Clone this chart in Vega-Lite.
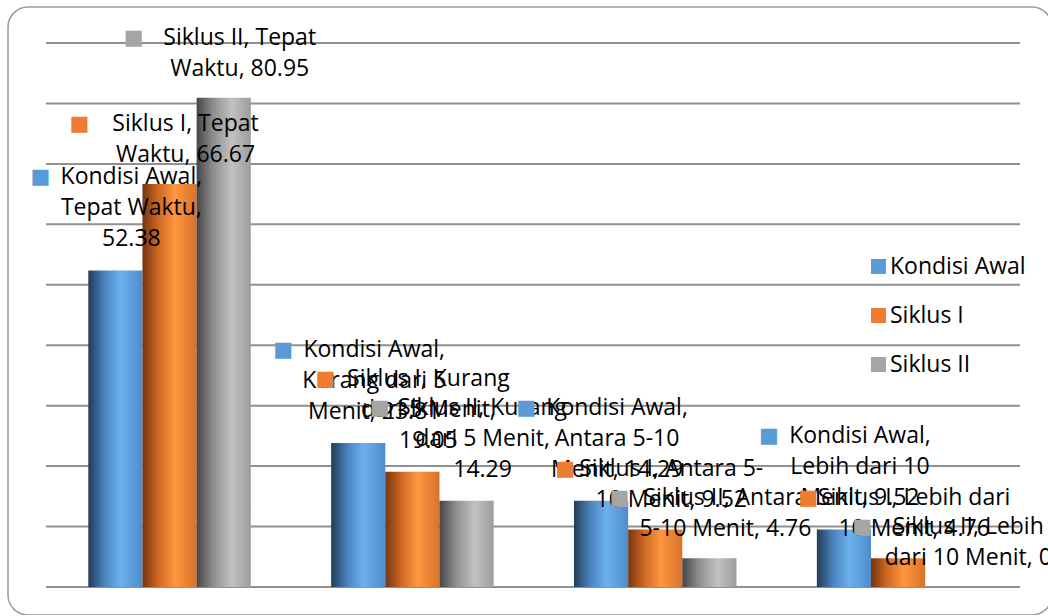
{
  "$schema": "https://vega.github.io/schema/vega-lite/v6.json",
  "width": 1044,
  "height": 608,
  "autosize": {"type": "none"},
  "padding": {"left": 8, "top": 7, "right": 0, "bottom": 0},
  "background": "white",
  "config": {
    "view": {"stroke": "#9b9b9b", "strokeWidth": 1.5, "cornerRadius": 20},
    "font": "Open Sans"
  },
  "datasets": {
    "bars": [
      {"category": "Tepat Waktu", "series": "Kondisi Awal", "value": 52.38, "label": "Kondisi Awal,\nTepat Waktu,\n52.38"},
      {"category": "Tepat Waktu", "series": "Siklus I", "value": 66.67, "label": "Siklus I, Tepat\nWaktu, 66.67"},
      {"category": "Tepat Waktu", "series": "Siklus II", "value": 80.95, "label": "Siklus II, Tepat\nWaktu, 80.95"},
      {"category": "Kurang dari 5 Menit", "series": "Kondisi Awal", "value": 23.81, "label": "Kondisi Awal,\nKurang dari 5\nMenit, 23.81"},
      {"category": "Kurang dari 5 Menit", "series": "Siklus I", "value": 19.05, "label": "Siklus I, Kurang\ndari 5 Menit,\n19.05"},
      {"category": "Kurang dari 5 Menit", "series": "Siklus II", "value": 14.29, "label": "Siklus II, Kurang\ndari 5 Menit,\n14.29"},
      {"category": "Antara 5-10 Menit", "series": "Kondisi Awal", "value": 14.29, "label": "Kondisi Awal,\nAntara 5-10\nMenit, 14.29"},
      {"category": "Antara 5-10 Menit", "series": "Siklus I", "value": 9.52, "label": "Siklus I, Antara 5-\n10 Menit, 9.52"},
      {"category": "Antara 5-10 Menit", "series": "Siklus II", "value": 4.76, "label": "Siklus II, Antara\n5-10 Menit, 4.76"},
      {"category": "Lebih dari 10 Menit", "series": "Kondisi Awal", "value": 9.52, "label": "Kondisi Awal,\nLebih dari 10\nMenit, 9.52"},
      {"category": "Lebih dari 10 Menit", "series": "Siklus I", "value": 4.76, "label": "Siklus I, Lebih dari\n10 Menit, 4.76"},
      {"category": "Lebih dari 10 Menit", "series": "Siklus II", "value": 0, "label": "Siklus II, Lebih\ndari 10 Menit, 0"}
    ],
    "grid": [{"g": 0}, {"g": 10}, {"g": 20}, {"g": 30}, {"g": 40}, {"g": 50}, {"g": 60}, {"g": 70}, {"g": 80}, {"g": 90}]
  },
  "layer": [
    {
      "data": {"name": "grid"},
      "mark": {"type": "rule", "color": "#909090", "strokeWidth": 2},
      "encoding": {
        "y": {"field": "g", "type": "quantitative", "scale": {"domain": [-4.632, 95.956], "nice": false, "zero": false}, "axis": null},
        "x": {"datum": 0, "type": "quantitative", "scale": {"domain": [-0.03901, 1.03286], "nice": false, "zero": false}, "axis": null},
        "x2": {"datum": 1}
      }
    },
    {
      "data": {"name": "bars"},
      "encoding": {
        "x": {"field": "category", "type": "nominal", "axis": null,
          "scale": {"domain": ["Tepat Waktu", "Kurang dari 5 Menit", "Antara 5-10 Menit", "Lebih dari 10 Menit"], "paddingInner": 0.3309, "paddingOuter": 0.3149, "align": 0.525, "round": false}},
        "xOffset": {"field": "series", "type": "nominal", "scale": {"domain": ["Kondisi Awal", "Siklus I", "Siklus II"], "paddingInner": 0, "paddingOuter": 0}},
        "y": {"field": "value", "type": "quantitative", "axis": null, "scale": {"domain": [-4.632, 95.956], "nice": false, "zero": false}}
      },
      "layer": [
        {
          "transform": [{"filter": "datum.series === 'Kondisi Awal'"}],
          "mark": {"type": "bar", "color": {"gradient": "linear", "x1": 0, "y1": 0, "x2": 1, "y2": 0,
            "stops": [{"offset": 0, "color": "#223c55"}, {"offset": 0.3, "color": "#4a84bf"}, {"offset": 0.6, "color": "#6cb1ee"}, {"offset": 1, "color": "#4e8ccb"}]}},
          "encoding": {"y2": {"datum": 0}}
        },
        {
          "transform": [{"filter": "datum.series === 'Siklus I'"}],
          "mark": {"type": "bar", "color": {"gradient": "linear", "x1": 0, "y1": 0, "x2": 1, "y2": 0,
            "stops": [{"offset": 0, "color": "#77340f"}, {"offset": 0.3, "color": "#cf6924"}, {"offset": 0.6, "color": "#ff9640"}, {"offset": 1, "color": "#d8722a"}]}},
          "encoding": {"y2": {"datum": 0}}
        },
        {
          "transform": [{"filter": "datum.series === 'Siklus II'"}],
          "mark": {"type": "bar", "color": {"gradient": "linear", "x1": 0, "y1": 0, "x2": 1, "y2": 0,
            "stops": [{"offset": 0, "color": "#454545"}, {"offset": 0.3, "color": "#8d8d8d"}, {"offset": 0.65, "color": "#c2c2c2"}, {"offset": 1, "color": "#9c9c9c"}]}},
          "encoding": {"y2": {"datum": 0}}
        },
        {
          "transform": [{"filter": "split(datum.label, '\\n').length == 3"}],
          "mark": {"type": "text", "align": "center", "baseline": "middle", "dx": 16, "dy": -93, "fontSize": 23, "lineHeight": 31, "lineBreak": "\n", "color": "#000000", "font": "Open Sans"},
          "encoding": {"text": {"field": "label", "type": "nominal"}}
        },
        {
          "transform": [{"filter": "split(datum.label, '\\n').length == 2"}],
          "mark": {"type": "text", "align": "center", "baseline": "middle", "dx": 16, "dy": -60, "fontSize": 23, "lineHeight": 31, "lineBreak": "\n", "color": "#000000", "font": "Open Sans"},
          "encoding": {"text": {"field": "label", "type": "nominal"}}
        },
        {
          "transform": [{"filter": "datum.series === 'Kondisi Awal'"}],
          "mark": {"type": "text", "text": "■", "font": "DejaVu Sans", "fontSize": 21, "align": "center", "baseline": "middle", "dx": -75, "dy": -93},
          "encoding": {
            "color": {"field": "series", "type": "nominal",
              "scale": {"domain": ["Kondisi Awal", "Siklus I", "Siklus II"], "range": ["#5b9bd5", "#ed7d31", "#a5a5a5"]},
              "legend": {"orient": "none", "legendX": 859, "legendY": 248, "title": null, "symbolType": "square", "symbolSize": 225, "symbolStrokeWidth": 0, "symbolOpacity": 1, "labelFontSize": 23, "labelFont": "Open Sans", "labelColor": "#000000", "rowPadding": 25, "labelOffset": 0}}
          }
        },
        {
          "transform": [{"filter": "datum.series !== 'Kondisi Awal' && split(datum.label, '\\n').length == 3"}],
          "mark": {"type": "text", "text": "■", "font": "DejaVu Sans", "fontSize": 21, "align": "center", "baseline": "middle", "dx": -87, "dy": -93},
          "encoding": {
            "color": {"field": "series", "type": "nominal",
              "scale": {"domain": ["Kondisi Awal", "Siklus I", "Siklus II"], "range": ["#5b9bd5", "#ed7d31", "#a5a5a5"]}}
          }
        },
        {
          "transform": [{"filter": "datum.series !== 'Kondisi Awal' && split(datum.label, '\\n').length == 2"}],
          "mark": {"type": "text", "text": "■", "font": "DejaVu Sans", "fontSize": 21, "align": "center", "baseline": "middle", "dx": -90, "dy": -60},
          "encoding": {
            "color": {"field": "series", "type": "nominal",
              "scale": {"domain": ["Kondisi Awal", "Siklus I", "Siklus II"], "range": ["#5b9bd5", "#ed7d31", "#a5a5a5"]}}
          }
        }
      ]
    }
  ],
  "resolve": {"scale": {"x": "independent"}}
}
